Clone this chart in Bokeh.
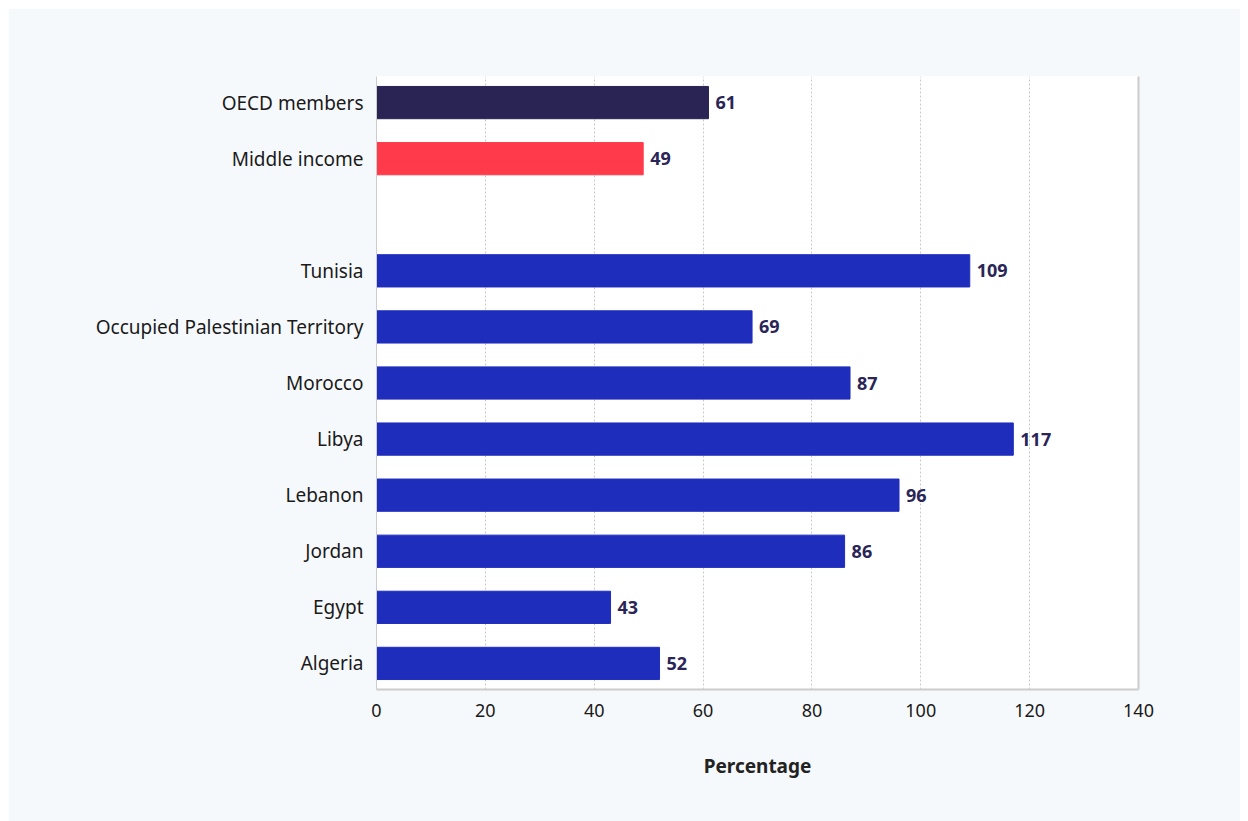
from bokeh.plotting import figure
from bokeh.models import ColumnDataSource, FactorRange, Range1d, LinearAxis, FixedTicker
from bokeh.core.properties import value
from bokeh.embed import file_html
from bokeh.resources import INLINE

categories = ["OECD members", "Middle income", " ", "Tunisia", "Occupied Palestinian Territory",
              "Morocco", "Libya", "Lebanon", "Jordan", "Egypt", "Algeria"]
values = [61, 49, None, 109, 69, 87, 117, 96, 86, 43, 52]
colors = ["#2a2454", "#ff3b4b", "#1f2dbd", "#1f2dbd", "#1f2dbd", "#1f2dbd", "#1f2dbd",
          "#1f2dbd", "#1f2dbd", "#1f2dbd", "#1f2dbd"]
x_ticks = [0, 20, 40, 60, 80, 100, 120, 140]

cats = [c for c, v in zip(categories, values) if v is not None]
vals = [v for v in values if v is not None]
cols = [c for c, v in zip(colors, values) if v is not None]
src = ColumnDataSource(dict(cat=cats, val=vals, col=cols, lab=[str(v) for v in vals]))

FONT = "Noto Sans"
BG = "#f6f9fc"

yr = FactorRange(*reversed(categories), range_padding=-0.035, range_padding_units="absolute")
p = figure(width=1232, height=813, y_range=yr,
           x_range=Range1d(0, 140), output_backend="svg", toolbar_location=None,
           min_border_left=368, min_border_right=102, min_border_top=68, min_border_bottom=132)
p.margin = (8, 8, 0, 8)
p.background_fill_color = "white"
p.border_fill_color = BG
p.outline_line_color = None

p.hbar(y="cat", right="val", left=0, height=0.575, color="col", source=src)
p.text(x="val", y="cat", text="lab", source=src, x_offset=7, text_baseline="middle",
       text_align="left", text_font=value(FONT), text_font_style="bold",
       text_font_size="18px", text_color="#2a2557")

p.xaxis.ticker = FixedTicker(ticks=x_ticks)
p.xaxis.axis_line_color = "#cccccc"
p.xaxis.axis_line_width = 2
p.xaxis.major_tick_line_color = None
p.xaxis.minor_tick_line_color = None
p.xaxis.major_label_text_font = FONT
p.xaxis.major_label_text_font_size = "18px"
p.xaxis.major_label_text_color = "#1a1a1a"
p.xaxis.major_label_standoff = 8
p.xaxis.axis_label = "Percentage"
p.xaxis.axis_label_text_font = FONT
p.xaxis.axis_label_text_font_style = "bold"
p.xaxis.axis_label_text_font_size = "19px"
p.xaxis.axis_label_text_color = "#222222"
p.xaxis.axis_label_standoff = 33

p.yaxis.axis_line_color = "#cccccc"
p.yaxis.axis_line_width = 1
p.yaxis.major_tick_line_color = None
p.yaxis.minor_tick_line_color = None
p.yaxis.major_label_text_font = FONT
p.yaxis.major_label_text_font_size = "19px"
p.yaxis.major_label_text_color = "#1a1a1a"
p.yaxis.major_label_standoff = 7

right = LinearAxis(axis_line_color="#cccccc", axis_line_width=2, major_tick_line_color=None,
                   minor_tick_line_color=None, major_label_text_font_size="0px")
right.ticker = FixedTicker(ticks=[])
p.add_layout(right, "right")

p.ygrid.grid_line_color = None
p.xgrid.ticker = FixedTicker(ticks=x_ticks)
p.xgrid.grid_line_color = "#c8c8c8"
p.xgrid.grid_line_dash = "2 2"
p.xgrid.grid_line_width = 1

open("out.html", "w").write(file_html(p, INLINE))
